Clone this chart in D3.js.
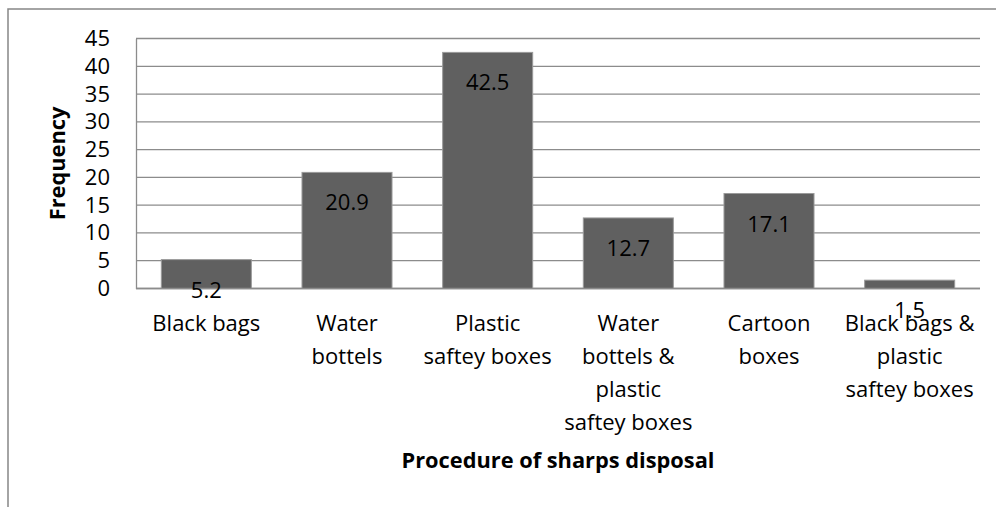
<!DOCTYPE html>
<html>
<head>
<meta charset="utf-8">
<script src="https://cdn.jsdelivr.net/npm/d3@7"></script>
<style>
  html, body { margin: 0; padding: 0; background: #fff; }
  svg { display: block; }
  text { font-family: "Open Sans", sans-serif; fill: #000; }
</style>
</head>
<body>
<svg id="chart" width="996" height="507"></svg>
<script>
const categories = [
  "Black bags",
  "Water bottels",
  "Plastic saftey boxes",
  "Water bottels & plastic saftey boxes",
  "Cartoon boxes",
  "Black bags & plastic saftey boxes"
];
const categoryLines = [
  ["Black bags"],
  ["Water", "bottels"],
  ["Plastic", "saftey boxes"],
  ["Water", "bottels &", "plastic", "saftey boxes"],
  ["Cartoon", "boxes"],
  ["Black bags &", "plastic", "saftey boxes"]
];
const values = [5.2, 20.9, 42.5, 12.7, 17.1, 1.5];
const yTicks = [0, 5, 10, 15, 20, 25, 30, 35, 40, 45];
const xTitle = "Procedure of sharps disposal";
const yTitle = "Frequency";

const svg = d3.select("#chart");
const plot = { left: 136, right: 980, top: 38.5, bottom: 288.5 };

// outer chart border (extends past right/bottom edges)
svg.append("rect")
  .attr("x", 8).attr("y", 9)
  .attr("width", 1100).attr("height", 600)
  .attr("fill", "none").attr("stroke", "#868686").attr("stroke-width", 1.5);

const x = d3.scaleBand().domain(categories).range([plot.left, plot.right]).paddingInner(0.36).paddingOuter(0.18);
const y = d3.scaleLinear().domain([0, 45]).range([plot.bottom, plot.top]);

// gridlines
svg.append("g").selectAll("line").data(yTicks).join("line")
  .attr("x1", plot.left).attr("x2", plot.right)
  .attr("y1", d => y(d)).attr("y2", d => y(d))
  .attr("stroke", "#8c8c8c").attr("stroke-width", 1.3);

// y axis
const yAxis = d3.axisLeft(y).tickValues(yTicks).tickSize(0).tickPadding(26);
const gy = svg.append("g").attr("transform", `translate(${plot.left},0)`).call(yAxis);
gy.select(".domain").attr("stroke", "#8c8c8c").attr("stroke-width", 1.3);
gy.selectAll("text").style("font-family", '"Open Sans", sans-serif').style("font-size", "22px").attr("fill", "#000");

// bars
svg.append("g").selectAll("rect").data(values).join("rect")
  .attr("x", (d, i) => x(categories[i]))
  .attr("y", d => y(d))
  .attr("width", x.bandwidth())
  .attr("height", d => y(0) - y(d))
  .attr("fill", "#606060")
  .attr("stroke", "#9a9a9a").attr("stroke-width", 1);

// x axis line
svg.append("line")
  .attr("x1", plot.left).attr("x2", plot.right)
  .attr("y1", y(0)).attr("y2", y(0))
  .attr("stroke", "#8c8c8c").attr("stroke-width", 1.3);

// value labels
svg.append("g").selectAll("text").data(values).join("text")
  .attr("x", (d, i) => x(categories[i]) + x.bandwidth() / 2)
  .attr("y", d => y(d) + 29)
  .attr("text-anchor", "middle")
  .attr("dominant-baseline", "central")
  .style("font-size", "22px")
  .text(d => d);

// category labels
const gx = svg.append("g");
categories.forEach((c, i) => {
  const t = gx.append("text")
    .attr("x", x(c) + x.bandwidth() / 2)
    .attr("y", 331)
    .attr("text-anchor", "middle")
    .style("font-size", "22px");
  categoryLines[i].forEach((line, j) => {
    t.append("tspan").attr("x", x(c) + x.bandwidth() / 2).attr("dy", j === 0 ? 0 : 33).text(line);
  });
});

// axis titles
svg.append("text")
  .attr("x", (plot.left + plot.right) / 2).attr("y", 468)
  .attr("text-anchor", "middle")
  .style("font-size", "21.8px").style("font-weight", "bold")
  .text(xTitle);

svg.append("text")
  .attr("transform", `translate(65, ${(plot.top + plot.bottom) / 2}) rotate(-90)`)
  .attr("text-anchor", "middle")
  .style("font-size", "21.8px").style("font-weight", "bold")
  .text(yTitle);
</script>
</body>
</html>
